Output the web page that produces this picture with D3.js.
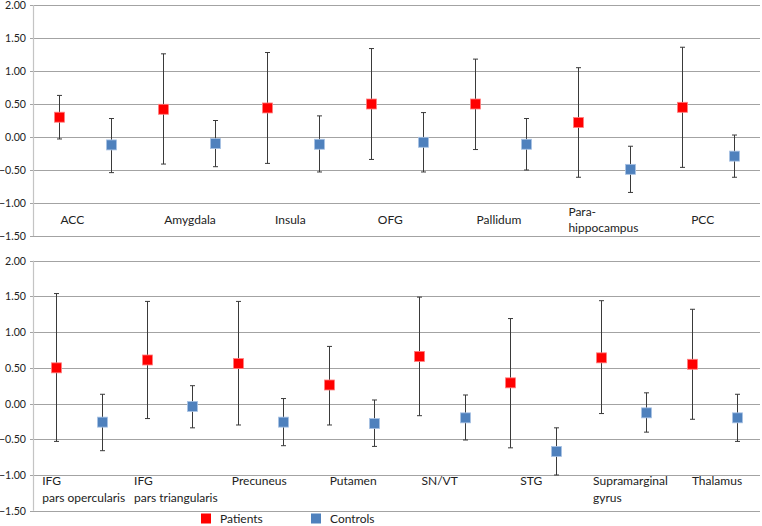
<!DOCTYPE html>
<html>
<head>
<meta charset="utf-8">
<script src="https://cdn.jsdelivr.net/npm/d3@7"></script>
<style>
  html, body { margin: 0; padding: 0; background: #fff; }
  svg { display: block; }
  text { font-family: Lato, "Open Sans", sans-serif; fill: #222; }
</style>
</head>
<body>
<svg id="chart" width="762" height="526"></svg>
<script>
// ---------- data ----------
const yTicks = [2.0, 1.5, 1.0, 0.5, 0.0, -0.5, -1.0, -1.5];

const topRegions = ["ACC", "Amygdala", "Insula", "OFG", "Pallidum", "Para-\nhippocampus", "PCC"];
const topPatientMean = [0.30, 0.42, 0.44, 0.50, 0.50, 0.22, 0.45];
const topPatientLow  = [-0.03, -0.41, -0.40, -0.34, -0.19, -0.61, -0.46];
const topPatientHigh = [0.63, 1.26, 1.28, 1.34, 1.18, 1.05, 1.36];
const topControlMean = [-0.12, -0.10, -0.11, -0.08, -0.11, -0.49, -0.29];
const topControlLow  = [-0.54, -0.45, -0.53, -0.53, -0.50, -0.84, -0.61];
const topControlHigh = [0.28, 0.25, 0.32, 0.37, 0.28, -0.14, 0.03];

const bottomRegions = ["IFG\npars opercularis", "IFG\npars triangularis", "Precuneus", "Putamen", "SN/VT", "STG", "Supramarginal\ngyrus", "Thalamus"];
const bottomPatientMean = [0.50, 0.61, 0.56, 0.26, 0.66, 0.29, 0.64, 0.55];
const bottomPatientLow  = [-0.53, -0.21, -0.30, -0.30, -0.17, -0.62, -0.14, -0.22];
const bottomPatientHigh = [1.54, 1.43, 1.43, 0.80, 1.49, 1.19, 1.44, 1.32];
const bottomControlMean = [-0.26, -0.04, -0.26, -0.28, -0.20, -0.67, -0.13, -0.20];
const bottomControlLow  = [-0.66, -0.34, -0.59, -0.60, -0.51, -1.00, -0.40, -0.53];
const bottomControlHigh = [0.13, 0.25, 0.07, 0.05, 0.12, -0.34, 0.15, 0.13];

const seriesNames = ["Patients", "Controls"];

// ---------- layout / style ----------
const colors = { Patients: "#FF0000", Controls: "#4F81BD" };
const halo = { Patients: "#ff8080", Controls: "#a9c3e4" };
const topLabelNudge = [1, 1, 8, 7, 2, -10, 9];
const bottomLabelNudge = [-14, -13, -6, 1, 2, 10, -8, 0];

const svg = d3.select("#chart");

function drawPanel(cfg) {
  const g = svg.append("g");
  const y = d3.scaleLinear().domain([-1.5, 2.0]).range([cfg.yBottom, cfg.yTop]);
  const keys = [];
  cfg.regions.forEach((r, i) => { keys.push(i + "-P"); keys.push(i + "-C"); });
  const x = d3.scaleBand().domain(keys).range([33.5, 760]);
  const cx = k => x(k) + x.bandwidth() / 2;

  // gridlines
  g.selectAll("line.grid").data(yTicks).join("line")
    .attr("x1", 30).attr("x2", 760)
    .attr("y1", d => Math.round(y(d)) + 0.5).attr("y2", d => Math.round(y(d)) + 0.5)
    .attr("stroke", "#a3a3a3").attr("stroke-width", 1);

  // y axis line
  g.append("line")
    .attr("x1", 33.5).attr("x2", 33.5)
    .attr("y1", y(2.0)).attr("y2", y(-1.5))
    .attr("stroke", "#c4c4c4").attr("stroke-width", 1.2);

  // tick labels
  g.selectAll("text.tick").data(yTicks).join("text")
    .attr("x", 26).attr("y", d => y(d))
    .attr("text-anchor", "end").attr("dominant-baseline", "central")
    .attr("font-size", 10.6)
    .text(d => d3.format(".2f")(d));

  const series = [
    { name: "Patients", tag: "P", mean: cfg.pMean, lo: cfg.pLow, hi: cfg.pHigh },
    { name: "Controls", tag: "C", mean: cfg.cMean, lo: cfg.cLow, hi: cfg.cHigh }
  ];

  series.forEach(s => {
    const pts = s.mean.map((m, i) => ({ k: i + "-" + s.tag, m, lo: s.lo[i], hi: s.hi[i] }));
    const eb = g.append("g").attr("stroke", "#3a3a3a").attr("stroke-width", 1);
    eb.selectAll("line.v").data(pts).join("line")
      .attr("x1", d => Math.round(cx(d.k)) + 0.5).attr("x2", d => Math.round(cx(d.k)) + 0.5)
      .attr("y1", d => y(d.hi)).attr("y2", d => y(d.lo));
    eb.selectAll("line.t").data(pts).join("line")
      .attr("x1", d => Math.round(cx(d.k)) - 2).attr("x2", d => Math.round(cx(d.k)) + 3)
      .attr("y1", d => y(d.hi)).attr("y2", d => y(d.hi));
    eb.selectAll("line.b").data(pts).join("line")
      .attr("x1", d => Math.round(cx(d.k)) - 2).attr("x2", d => Math.round(cx(d.k)) + 3)
      .attr("y1", d => y(d.lo)).attr("y2", d => y(d.lo));
  });

  series.forEach(s => {
    const pts = s.mean.map((m, i) => ({ k: i + "-" + s.tag, m }));
    g.selectAll(null).data(pts).join("rect")
      .attr("x", d => Math.round(cx(d.k)) - 4.5).attr("y", d => y(d.m) - 5)
      .attr("width", 10).attr("height", 10)
      .attr("fill", colors[s.name])
      .attr("stroke", halo[s.name]).attr("stroke-width", 0.8);
  });

  // category labels
  cfg.regions.forEach((r, i) => {
    const lines = r.split("\n");
    const x0 = cx(i + "-P") + cfg.nudge[i];
    const t = g.append("text")
      .attr("x", x0)
      .attr("font-size", 12)
      .attr("text-anchor", "start");
    lines.forEach((ln, j) => {
      let yy;
      if (cfg.centerLabels) {
        yy = (y(-1.0) + y(-1.5)) / 2 + (j - (lines.length - 1) / 2) * 16.5;
      } else {
        yy = y(-1.0) + 6 + j * 16.5;
      }
      t.append("tspan").attr("x", x0).attr("y", yy)
        .attr("dominant-baseline", "central").text(ln);
    });
  });
}

drawPanel({
  regions: topRegions, yTop: 5, yBottom: 236,
  pMean: topPatientMean, pLow: topPatientLow, pHigh: topPatientHigh,
  cMean: topControlMean, cLow: topControlLow, cHigh: topControlHigh,
  nudge: topLabelNudge, centerLabels: true
});

drawPanel({
  regions: bottomRegions, yTop: 260.7, yBottom: 510.7,
  pMean: bottomPatientMean, pLow: bottomPatientLow, pHigh: bottomPatientHigh,
  cMean: bottomControlMean, cLow: bottomControlLow, cHigh: bottomControlHigh,
  nudge: bottomLabelNudge, centerLabels: false
});

// legend
const legendX = d3.scaleOrdinal().domain(seriesNames).range([201, 311]);
const lg = svg.append("g");
seriesNames.forEach(name => {
  lg.append("rect")
    .attr("x", legendX(name)).attr("y", 513.5)
    .attr("width", 10).attr("height", 10)
    .attr("fill", colors[name]);
  lg.append("text")
    .attr("x", legendX(name) + 19).attr("y", 518.5)
    .attr("dominant-baseline", "central")
    .attr("font-size", 12)
    .text(name);
});
</script>
</body>
</html>
